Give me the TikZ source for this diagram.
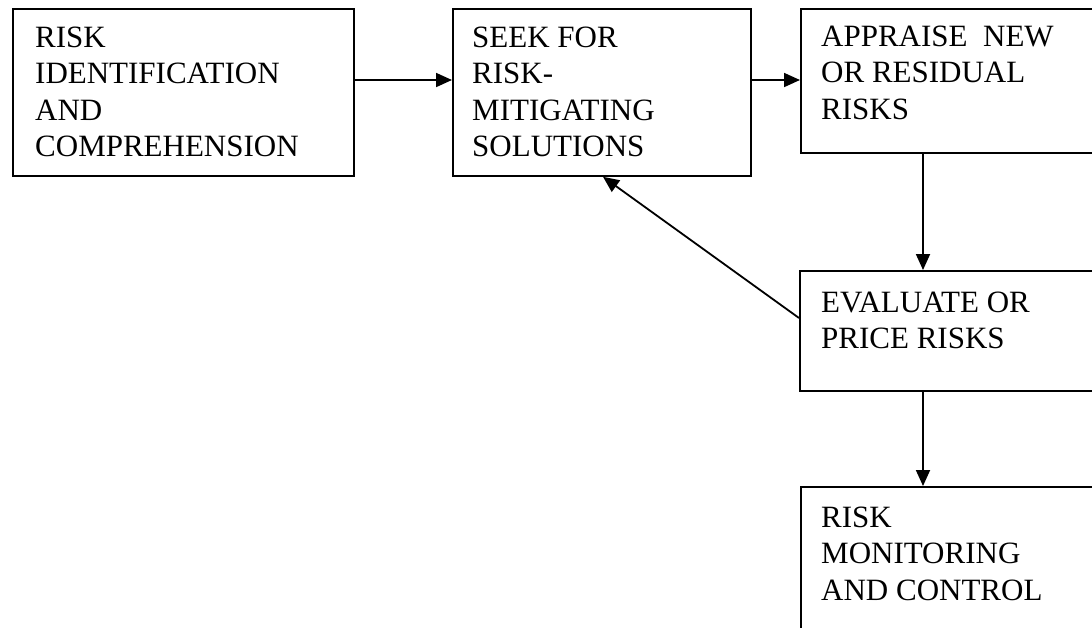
\documentclass[tikz,border=0pt]{standalone}
\usepackage{fontspec}
\setmainfont{Liberation Serif}
\usetikzlibrary{arrows.meta,calc}
\tikzset{
  box/.style={draw=black, line width=1.8pt, rectangle, anchor=north west, inner sep=0pt},
  lbl/.style={anchor=north west, inner sep=0pt, align=left, font=\fontsize{31}{36.5}\selectfont},
  arr/.style={line width=1.8pt, -{Triangle[length=16pt,width=14pt]}}
}
\begin{document}
\begin{tikzpicture}[x=1pt,y=-1pt]
\useasboundingbox (0,0) rectangle (1092,627);
\fill[white] (0,0) rectangle (1092,627);
\clip (0,0) rectangle (1092,627);
% boxes
\node[box, minimum width=341pt, minimum height=167pt] (b1) at (12,8) {};
\node[box, minimum width=298pt, minimum height=167pt] (b2) at (452,8) {};
\node[box, minimum width=400pt, minimum height=144pt] (b3) at (800,8) {};
\node[box, minimum width=400pt, minimum height=120pt] (b4) at (799,270) {};
\node[box, minimum width=400pt, minimum height=200pt] (b5) at (800,486) {};
% texts
\node[lbl] (t1) at (35,26.5) {RISK\\IDENTIFICATION\\AND\\COMPREHENSION};
\node[lbl] (t2) at (472,26.5) {SEEK FOR\\RISK-\\MITIGATING\\SOLUTIONS};
\node[lbl] (t3) at (821,25.5) {APPRAISE\ \ NEW\\OR RESIDUAL\\RISKS};
\node[lbl] (t4) at (821,291.5) {EVALUATE OR\\PRICE RISKS};
\node[lbl] (t5) at (821,506.5) {RISK\\MONITORING\\AND CONTROL};
% connectors
\draw[arr] ([yshift=-72pt]b1.north east) -- ([yshift=-72pt]b2.north west);
\draw[arr] ([yshift=-72pt]b2.north east) -- ([yshift=-72pt]b3.north west);
\draw[arr] ([xshift=123pt]b3.south west) -- ([xshift=124pt]b4.north west);
\draw[arr] ([yshift=-48pt]b4.north west) -- ([xshift=151pt]b2.south west);
\draw[arr] ([xshift=124pt]b4.south west) -- ([xshift=123pt]b5.north west);
\end{tikzpicture}
\end{document}
